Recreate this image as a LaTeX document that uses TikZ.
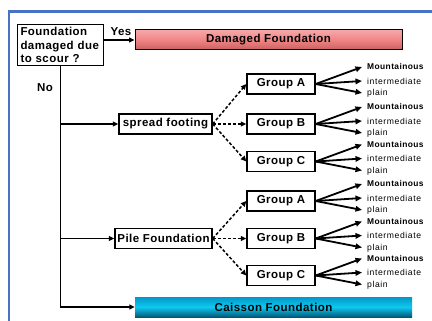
\documentclass[tikz,border=0pt]{standalone}
\usepackage{fontspec}
\setmainfont{Liberation Sans}
\usetikzlibrary{arrows.meta}
\definecolor{frameblue}{HTML}{4A72C4}
\definecolor{dmgtop}{HTML}{F6A8A8}
\definecolor{dmgmid}{HTML}{F08484}
\definecolor{dmgbot}{HTML}{C86060}
\definecolor{caitop}{HTML}{0098C8}
\definecolor{caimid}{HTML}{10C8F0}
\definecolor{caibot}{HTML}{005878}
\newcommand{\boxfont}{\bfseries\fontsize{11.5}{13.5}\selectfont\addfontfeature{LetterSpace=4}}
\begin{document}
\begin{tikzpicture}[x=1pt,y=-1pt,
  box/.style={draw, line width=1.4pt, fill=white, font=\boxfont, inner sep=0pt},
  grp/.style={box, minimum width=68pt, minimum height=20pt},
  conn/.style={line width=1.5pt, -{Triangle[length=5.5pt,width=5pt]}},
  dconn/.style={conn, dash pattern=on 3pt off 2pt},
  fan/.style={line width=1.8pt, -{Triangle[length=6.5pt,width=5.5pt]}},
  mtn/.style={anchor=west, font=\bfseries\fontsize{8.4}{8}\selectfont\addfontfeature{LetterSpace=5}, inner sep=0pt},
  lvl/.style={anchor=west, font=\fontsize{8.6}{8}\selectfont\addfontfeature{LetterSpace=7}, inner sep=0pt},
  lab/.style={font=\boxfont, inner sep=0pt}]
\useasboundingbox (0,0) rectangle (432,321);
\clip (0,0) rectangle (432,321);
\fill[white] (0,0) rectangle (432,321);
\draw[frameblue, line width=2.8pt] (9,340) -- (9,11.5) -- (450,11.5);

% question box
\node[box, minimum width=86pt, minimum height=40pt, text width=80pt, align=left, inner sep=3pt] (q) at (60.5,45)
  {Foundation\\damaged due\\to scour ?};

% damaged
\node[draw, line width=1pt, top color=dmgtop, bottom color=dmgbot, middle color=dmgmid,
  minimum width=267pt, minimum height=20pt, inner sep=0pt, font=\boxfont] (dmg) at (268.5,40) {Damaged Foundation};
\draw[conn] (q.east |- dmg.west) -- (dmg.west);
\node[lab] (yes) at (121,32) {Yes};
\node[lab] (no) at (45,88) {No};

% caisson
\node[top color=caitop, bottom color=caibot, middle color=caimid,
  minimum width=277pt, minimum height=20pt, inner sep=0pt, font=\boxfont] (cai) at (273.5,307) {Caisson Foundation};

% foundation types
\node[box, minimum width=93pt, minimum height=20pt] (sf) at (165.5,124) {spread footing};
\node[box, minimum width=97pt, minimum height=20pt] (pf) at (163.5,238.5) {Pile Foundation};

\draw[conn] (q.south) |- (cai.west);
\draw[conn] (q.south |- sf.west) -- (sf.west);
\draw[conn] (q.south |- pf.west) -- (pf.west);

% groups
\node[grp] (gA1) at (281,84) {Group A};
\node[grp] (gB1) at (281,124) {Group B};
\node[grp] (gC1) at (281,161.5) {Group C};
\node[grp] (gA2) at (281,201) {Group A};
\node[grp] (gB2) at (281,238.5) {Group B};
\node[grp] (gC2) at (281,275.5) {Group C};

\foreach \g in {gA1,gB1,gC1} \draw[dconn] (sf.east) -- (\g.west);
\foreach \g in {gA2,gB2,gC2} \draw[dconn] (pf.east) -- (\g.west);

\foreach \g/\cy in {gA1/84,gB1/124,gC1/161.5,gA2/201,gB2/238.5,gC2/275.5}{
  \coordinate (\g m) at (362,\cy-17);
  \coordinate (\g i) at (362,\cy-3);
  \coordinate (\g p) at (362,\cy+9);
  \draw[fan] (\g.east) -- (\g m);
  \draw[fan] (\g.east) -- (\g i);
  \draw[fan] (\g.east) -- (\g p);
  \node[mtn] (\g mt) at (367,\cy-17.5) {Mountainous};
  \node[lvl] (\g it) at (367,\cy-3) {intermediate};
  \node[lvl] (\g pt) at (367,\cy+9.5) {plain};
}
\end{tikzpicture}
\end{document}
